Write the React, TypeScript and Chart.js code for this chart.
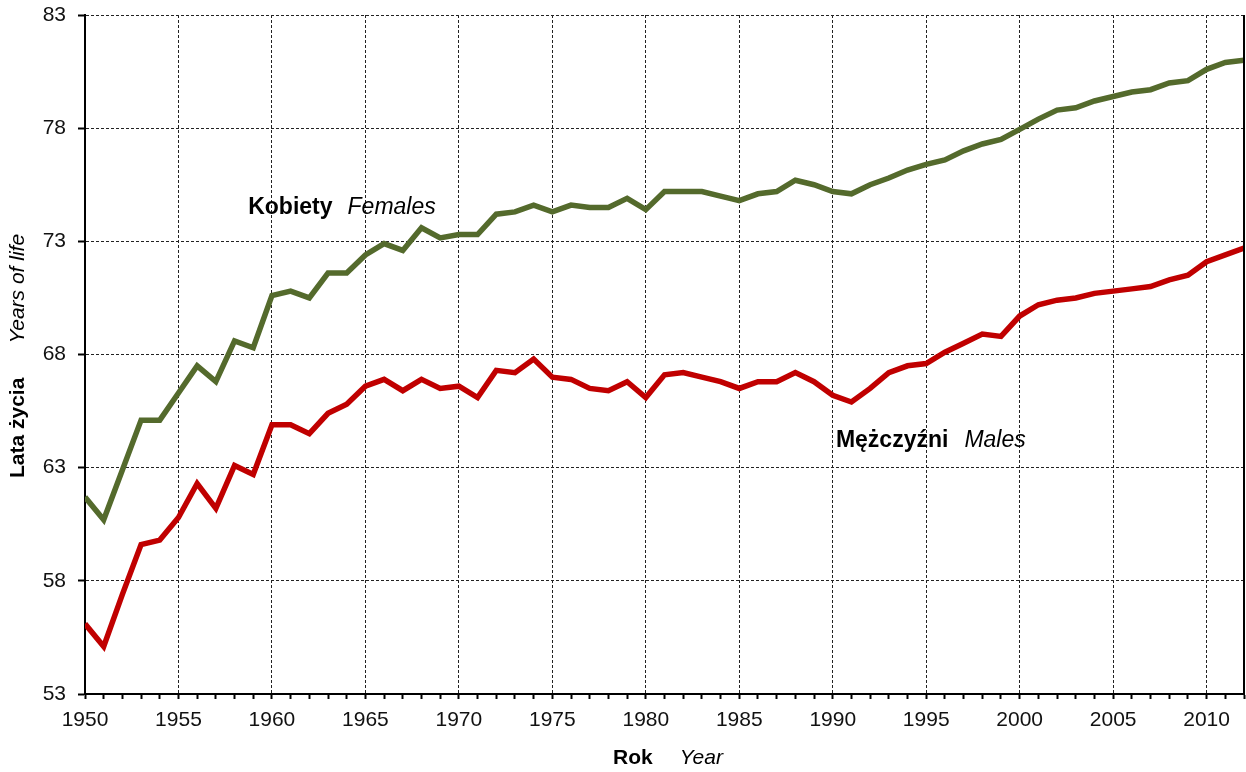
import React, { useEffect, useRef } from "react";
import { Chart, registerables } from "chart.js";

Chart.register(...registerables);

const years: number[] = [];
for (let y = 1950; y <= 2012; y++) years.push(y);

const females: number[] = [
  61.7, 60.7, 62.9, 65.1, 65.1, 66.3, 67.5, 66.8, 68.6, 68.3,
  70.6, 70.8, 70.5, 71.6, 71.6, 72.4, 72.9, 72.6, 73.6, 73.15,
  73.3, 73.3, 74.2, 74.3, 74.6, 74.3, 74.6, 74.5, 74.5, 74.9,
  74.4, 75.2, 75.2, 75.2, 75.0, 74.8, 75.1, 75.2, 75.7, 75.5,
  75.2, 75.1, 75.5, 75.8, 76.15, 76.4, 76.6, 77.0, 77.3, 77.5,
  77.95, 78.4, 78.8, 78.9, 79.2, 79.4, 79.6, 79.7, 80.0, 80.1,
  80.6, 80.9, 81.0,
];

const males: number[] = [
  56.1, 55.1, 57.4, 59.6, 59.8, 60.8, 62.3, 61.2, 63.1, 62.7,
  64.9, 64.9, 64.5, 65.4, 65.8, 66.6, 66.9, 66.4, 66.9, 66.5,
  66.6, 66.1, 67.3, 67.2, 67.8, 67.0, 66.9, 66.5, 66.4, 66.8,
  66.1, 67.1, 67.2, 67.0, 66.8, 66.5, 66.8, 66.8, 67.2, 66.8,
  66.2, 65.9, 66.5, 67.2, 67.5, 67.6, 68.1, 68.5, 68.9, 68.8,
  69.7, 70.2, 70.4, 70.5, 70.7, 70.8, 70.9, 71.0, 71.3, 71.5,
  72.1, 72.4, 72.7,
];

const femaleLabel = ["Kobiety", "Females"];
const maleLabel = ["Mężczyźni", "Males"];
const xTitle = ["Rok", "Year"];
const yTitle = ["Lata życia", "Years of life"];

const FONT = "'Liberation Sans', Arial, sans-serif";

function drawPair(ctx: CanvasRenderingContext2D, x: number, y: number, pair: string[], size: number, gap: number) {
  ctx.font = `bold ${size}px ${FONT}`;
  ctx.fillText(pair[0], x, y);
  const w = ctx.measureText(pair[0]).width;
  ctx.font = `italic ${size}px ${FONT}`;
  ctx.fillText(pair[1], x + w + gap, y);
}

const textPlugin = {
  id: "customText",
  afterDraw(chart: any) {
    const { ctx, chartArea, scales } = chart;
    const xs = scales.x;
    const ys = scales.y;
    ctx.save();
    // right border
    ctx.strokeStyle = "#000";
    ctx.lineWidth = 2;
    ctx.beginPath();
    ctx.moveTo(chartArea.right, chartArea.top);
    ctx.lineTo(chartArea.right, chartArea.bottom);
    ctx.stroke();

    ctx.fillStyle = "#000";
    ctx.textBaseline = "middle";
    ctx.textAlign = "left";
    drawPair(ctx, xs.getPixelForValue(1958.73), ys.getPixelForValue(74.5), femaleLabel, 23, 15);
    drawPair(ctx, xs.getPixelForValue(1990.17), ys.getPixelForValue(64.2), maleLabel, 23, 16);

    // x title
    drawPair(ctx, 613, 758, xTitle, 21, 27);

    // y title (rotated)
    ctx.translate(18, 478);
    ctx.rotate(-Math.PI / 2);
    drawPair(ctx, 0, 0, yTitle, 21, 34);
    ctx.restore();
  },
};

export default function App() {
  const ref = useRef<HTMLCanvasElement>(null);

  useEffect(() => {
    if (!ref.current) return;
    Chart.defaults.font.family = FONT;
    const chart = new Chart(ref.current, {
      type: "line",
      data: {
        datasets: [
          {
            label: "Kobiety",
            data: years.map((x, i) => ({ x, y: females[i] })),
            borderColor: "#546A2C",
            backgroundColor: "#546A2C",
            borderWidth: 5.5,
            pointRadius: 0,
            tension: 0,
          },
          {
            label: "Mężczyźni",
            data: years.map((x, i) => ({ x, y: males[i] })),
            borderColor: "#C00000",
            backgroundColor: "#C00000",
            borderWidth: 5.5,
            pointRadius: 0,
            tension: 0,
          },
        ],
      },
      options: {
        animation: false,
        responsive: false,
        maintainAspectRatio: false,
        layout: { padding: { left: 0, top: 15, right: 2, bottom: 0 } },
        plugins: {
          legend: { display: false },
          tooltip: { enabled: false },
        },
        scales: {
          x: {
            type: "linear",
            min: 1950,
            max: 2012,
            afterFit: (scale: any) => {
              scale.height = 78;
              scale.paddingLeft = 0;
              scale.paddingRight = 0;
            },
            ticks: {
              stepSize: 1,
              autoSkip: false,
              maxRotation: 0,
              padding: 9,
              color: "#111",
              font: { size: 21 },
              callback: (v: any) => (Number(v) % 5 === 0 ? String(v) : ""),
            },
            grid: {
              color: (c: any) => {
                const v = c.tick ? c.tick.value : 0;
                return v % 5 === 0 && v !== 1950 ? "#222" : "transparent";
              },
              lineWidth: 1,
              tickColor: "#000",
              tickLength: 5,
              tickWidth: 2,
            },
            border: { display: true, color: "#000", width: 2, dash: [3, 2] },
          },
          y: {
            min: 53,
            max: 83,
            afterFit: (scale: any) => {
              scale.width = 85;
              scale.paddingTop = 0;
              scale.paddingBottom = 0;
            },
            ticks: {
              stepSize: 5,
              padding: 12,
              color: "#111",
              font: { size: 21 },
            },
            grid: {
              color: (c: any) => {
                const v = c.tick ? c.tick.value : 0;
                return v === 53 ? "transparent" : "#222";
              },
              lineWidth: 1,
              tickColor: "#000",
              tickLength: 7,
              tickWidth: 2,
            },
            border: { display: true, color: "#000", width: 2, dash: [3, 2] },
          },
        },
      },
      plugins: [textPlugin],
    });
    return () => chart.destroy();
  }, []);

  return (
    <div style={{ position: "fixed", left: 0, top: 0, width: 1246, height: 772, background: "#fff" }}>
      <canvas ref={ref} width={1246} height={772} />
    </div>
  );
}
